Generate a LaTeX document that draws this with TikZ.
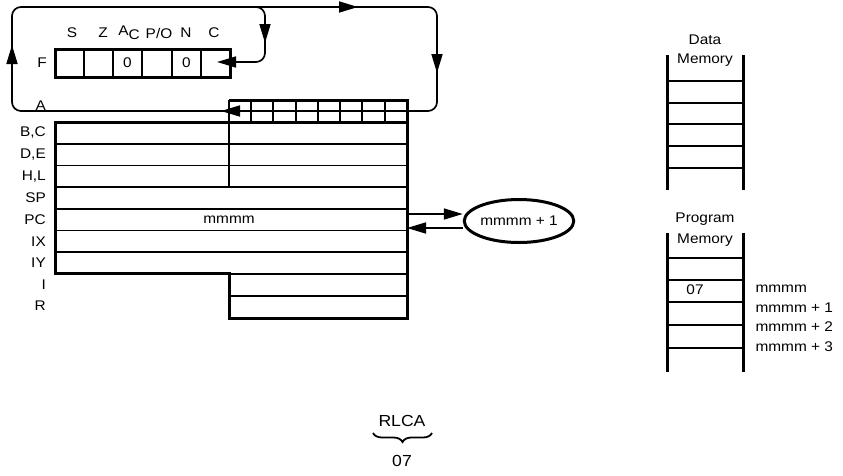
\documentclass[tikz,border=0pt]{standalone}
\usepackage{fontspec}
\setmainfont[FakeStretch=1.1]{Liberation Sans}
\usetikzlibrary{arrows.meta,shapes.geometric,decorations.pathreplacing}

\begin{document}
\begin{tikzpicture}[x=1pt,y=-1pt,
  font=\fontsize{14}{17}\selectfont,
  heavy/.style={line width=3pt},
  light/.style={line width=1.6pt},
  flow/.style={line width=1.7pt, rounded corners=9pt},
  tip/.style={line width=1.7pt, -{Triangle[length=19pt,width=11pt]}},
  reglabel/.style={anchor=east, inner sep=0pt}]

\useasboundingbox (0,0) rectangle (843,475);

% Define dimensions
\def\regleft{55}
\def\regmid{229}
\def\regright{407}
\def\memleft{667}
\def\memright{743}

% Flag register F
\draw[heavy] (55,49) rectangle (230,77);
\foreach \x in {84,113,142,172,201}
  \draw[line width=2.2pt] (\x,49) -- (\x,77);
\node[reglabel] (lblF) at (47,63) {F};
\node (flagS) at (72,33) {S};
\node (flagZ) at (103,33) {Z};
\node (flagAC) at (129,33) {A\raisebox{-4pt}{C}};
\node (flagPO) at (159,33) {P/O};
\node (flagN) at (186,33) {N};
\node (flagC) at (214,33) {C};
\node (valAC) at (127.5,63) {0};
\node (valN) at (186.5,63) {0};
\coordinate (cin) at (230,62);

% Accumulator A, 8 bits
\draw[heavy] (\regmid,100) -- (\regright,100);
\foreach \x in {251,273,296,318,340,362,385}
  \draw[light] (\x,100) -- (\x,122);
\draw[light] (\regmid,111) -- (\regright,111);
\coordinate (aout) at (\regmid,111);
\coordinate (ain) at (\regright,111);
\node[reglabel] (lblA) at (46,106) {A};

% Rotate loop: bit 7 to carry and to bit 0
\draw[flow] (aout) -- (12,111) -- (12,7) -- (437,7) -- (437,111) -- (ain);
\draw[flow] (250,7) -- (265,7) -- (265,62) -- (cin);
\draw[tip] (242,111) -- (221,111);
\draw[tip] (12,64) -- (12,45);
\draw[tip] (334,7) -- (358,7);
\draw[tip] (437,52) -- (437,73);
\draw[tip] (265,24) -- (265,43);
\draw[tip] (241,62) -- (217,62);

% Register block outline
\draw[heavy] (\regmid,100) -- (\regright,100) -- (\regright,318) -- (\regmid,318)
  -- (\regmid,273.9) -- (\regleft,273.9) -- (\regleft,122) -- (\regright,122);
\draw[line width=2.2pt] (\regmid,100) -- (\regmid,187.1);

% Row separators
\draw[light] (\regleft,143.7) -- (\regright,143.7);
\draw[light] (\regleft,165.4) -- (\regright,165.4);
\draw[light] (\regleft,187.1) -- (\regright,187.1);
\draw[light] (\regleft,208.8) -- (\regright,208.8);
\draw[light] (\regleft,230.5) -- (\regright,230.5);
\draw[light] (\regleft,252.2) -- (\regright,252.2);
\draw[light] (\regmid,273.9) -- (\regright,273.9);
\draw[light] (\regmid,296) -- (\regright,296);

% Register names
\node[reglabel] (lblBC) at (46,133) {B,C};
\node[reglabel] (lblDE) at (46,154.5) {D,E};
\node[reglabel] (lblHL) at (46,176.3) {H,L};
\node[reglabel] (lblSP) at (46,198) {SP};
\node[reglabel] (lblPC) at (46,219.6) {PC};
\node[reglabel] (lblIX) at (46,241.3) {IX};
\node[reglabel] (lblIY) at (46,263) {IY};
\node[reglabel] (lblI) at (46,285) {I};
\node[reglabel] (lblR) at (46,306) {R};
\node (pcval) at (229,219.6) {mmmm};

% Incremented program counter
\node[draw, ellipse, line width=3pt, minimum width=102pt, minimum height=43pt,
  inner sep=0pt] (pcnext) at (519,221) {mmmm + 1};
\coordinate (pcout) at (\regright,214);
\coordinate (pcin) at (\regright,228);
\draw[tip] (pcout) -- (pcout -| pcnext.west);
\draw[tip] (pcin -| pcnext.west) -- (pcin);

% Data memory
\node (dmtitle) at (705,40) {Data};
\node (dmtitle2) at (705,60) {Memory};
\draw[heavy] (\memleft,55) -- (\memleft,190);
\draw[heavy] (\memright,55) -- (\memright,190);
\foreach \y in {81,103,124,146,168}
  \draw[light] (\memleft,\y) -- (\memright,\y);

% Program memory
\node (pmtitle) at (705,219) {Program};
\node (pmtitle2) at (705,240) {Memory};
\draw[heavy] (\memleft,233) -- (\memleft,372);
\draw[heavy] (\memright,233) -- (\memright,372);
\foreach \y in {258,280,302,325,348}
  \draw[light] (\memleft,\y) -- (\memright,\y);
\node (opcode) at (695,290) {07};
\node[anchor=west] (addr0) at (752,289) {mmmm};
\node[anchor=west] (addr1) at (752,308) {mmmm + 1};
\node[anchor=west] (addr2) at (752,327) {mmmm + 2};
\node[anchor=west] (addr3) at (752,347) {mmmm + 3};

% Mnemonic and its code
\node[font=\fontsize{16}{19}\selectfont] (mnem) at (402,421) {RLCA};
\node[font=\fontsize{16}{19}\selectfont] (code) at (402,461) {07};
\draw[decorate, decoration={brace, mirror, amplitude=9pt}, line width=1.8pt]
  (373,433) -- (432,433);
\end{tikzpicture}
\end{document}
